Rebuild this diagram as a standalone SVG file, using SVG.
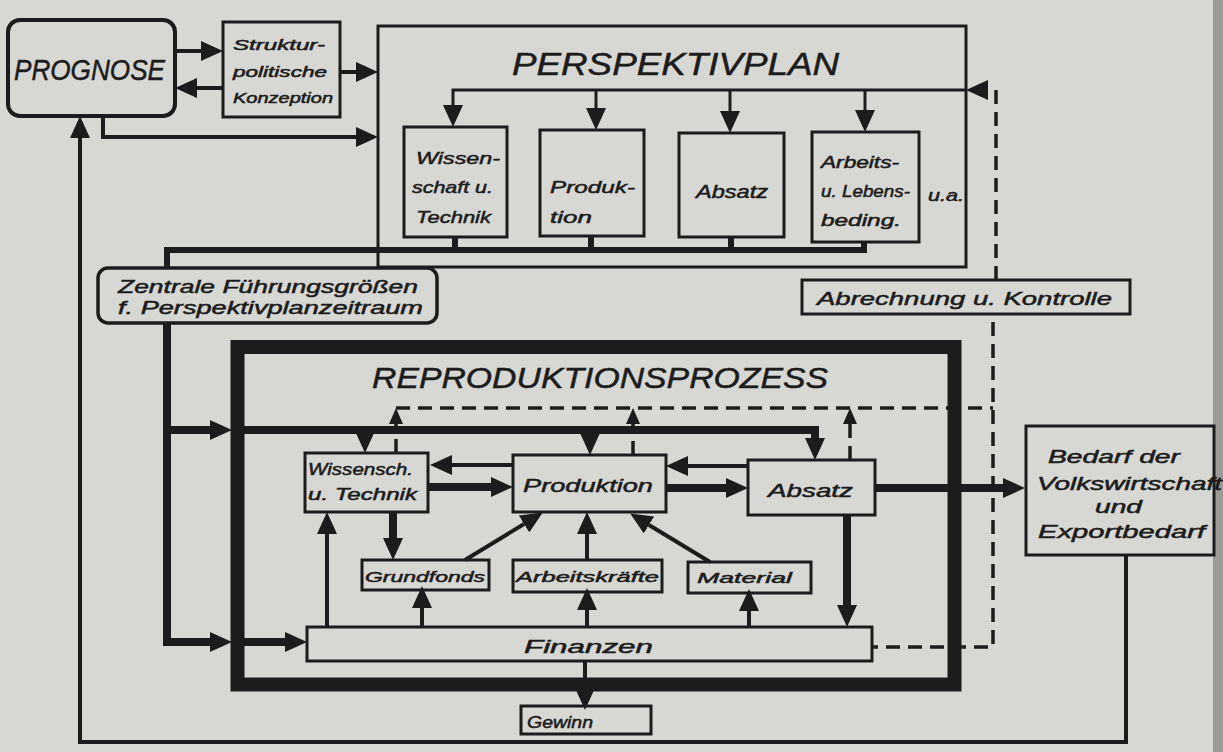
<svg xmlns="http://www.w3.org/2000/svg" width="1223" height="752" viewBox="0 0 1223 752">
<defs>
<style>
.bg{fill:#d7d7d3}
.box{fill:none;stroke:#1c1c1c;stroke-width:3}
.ln{fill:none;stroke:#1c1c1c;stroke-width:4}
.th{fill:none;stroke:#1c1c1c;stroke-width:8}
.md{fill:none;stroke:#1c1c1c;stroke-width:6}
.ds{fill:none;stroke:#1c1c1c;stroke-width:3.5;stroke-dasharray:14 8}
.t{font-family:"Liberation Sans",Arial,sans-serif;font-style:italic;fill:#1c1c1c;stroke:#1c1c1c;stroke-width:0.5}
</style>
<marker id="ah" markerUnits="userSpaceOnUse" markerWidth="22" markerHeight="20" refX="0" refY="10" orient="auto"><path d="M0,0 L22,10 L0,20 z" fill="#1c1c1c"/></marker>
<marker id="as" markerUnits="userSpaceOnUse" markerWidth="16" markerHeight="14" refX="0" refY="7" orient="auto"><path d="M0,0 L16,7 L0,14 z" fill="#1c1c1c"/></marker>
</defs>
<rect class="bg" x="0" y="0" width="1223" height="752"/>
<rect x="1213" y="0" width="10" height="752" fill="#9a9a97"/>

<g id="connectors">
<path class="ln" d="M175,51 H201" marker-end="url(#ah)"/>
<path class="ln" d="M223,88 H197" marker-end="url(#ah)"/>
<path class="ln" d="M340,72 H356" marker-end="url(#ah)"/>
<path class="ln" d="M103,116 V137 H356" marker-end="url(#ah)"/>
<path class="ln" d="M1126,555 V742 H80 V138" marker-end="url(#ah)"/>
<path class="box" d="M966,90 H453 V105" marker-end="url(#ah)"/>
<path class="box" d="M596,90 V108" marker-end="url(#ah)"/>
<path class="box" d="M730,90 V111" marker-end="url(#ah)"/>
<path class="box" d="M865,90 V110" marker-end="url(#ah)"/>
<path class="ds" d="M996,280 V90 H988" marker-end="url(#ah)"/>
<path class="md" d="M455,237 V250 M591,235 V250 M731,237 V250 M864,242 V250 H167 V268"/>
<path class="th" d="M167,323 V642 H210" marker-end="url(#ah)"/>
<path class="th" d="M167,430 H210" marker-end="url(#ah)"/>
<path class="th" d="M244,642 H285" marker-end="url(#ah)"/>
<path class="th" d="M244,430 H815 V438" marker-end="url(#ah)"/>
<path class="th" d="M365,430 V431" marker-end="url(#ah)"/>
<path class="th" d="M590,432 V433" marker-end="url(#ah)"/>
<path class="ds" d="M396,453 V424" marker-end="url(#as)"/>
<path class="ds" d="M633,455 V424" marker-end="url(#as)"/>
<path class="ds" d="M850,460 V424" marker-end="url(#as)"/>
<path class="ds" d="M396,408 H993 M993,322 V647 H872"/>
<path class="th" d="M428,487 H491" marker-end="url(#ah)"/>
<path class="ln" d="M513,465 H452" marker-end="url(#ah)"/>
<path class="th" d="M666,488 H726" marker-end="url(#ah)"/>
<path class="ln" d="M748,466 H688" marker-end="url(#ah)"/>
<path class="th" d="M875,488 H1003" marker-end="url(#ah)"/>
<path class="th" d="M847,515 V605" marker-end="url(#ah)"/>
<path class="th" d="M393,512 V538" marker-end="url(#ah)"/>
<path class="ln" d="M465,560 L524,524" marker-end="url(#ah)"/>
<path class="ln" d="M587,560 V534" marker-end="url(#ah)"/>
<path class="ln" d="M710,562 L649,525" marker-end="url(#ah)"/>
<path class="ln" d="M327,627 V534" marker-end="url(#ah)"/>
<path class="ln" d="M422,627 V608" marker-end="url(#ah)"/>
<path class="ln" d="M587,627 V610" marker-end="url(#ah)"/>
<path class="ln" d="M749,627 V611" marker-end="url(#ah)"/>
<path class="ln" d="M585,661 V688" marker-end="url(#ah)"/>
</g>

<g id="prognose">
<rect x="8" y="20" width="167" height="96" rx="12" fill="none" stroke="#1c1c1c" stroke-width="4"/>
<text class="t" x="14" y="80" font-size="30" textLength="151" lengthAdjust="spacingAndGlyphs">PROGNOSE</text>
</g>
<g id="struktur">
<rect class="box" x="223" y="22" width="117" height="95"/>
<text class="t" x="233" y="50" font-size="14" textLength="92" lengthAdjust="spacingAndGlyphs">Struktur-</text>
<text class="t" x="233" y="77" font-size="14" textLength="94" lengthAdjust="spacingAndGlyphs">politische</text>
<text class="t" x="233" y="103" font-size="14" textLength="100" lengthAdjust="spacingAndGlyphs">Konzeption</text>
</g>
<g id="perspektivplan">
<rect class="box" x="378" y="26" width="588" height="241"/>
<text class="t" x="512" y="75" font-size="31" textLength="327" lengthAdjust="spacingAndGlyphs">PERSPEKTIVPLAN</text>
<text class="t" x="928" y="201" font-size="16" textLength="36" lengthAdjust="spacingAndGlyphs">u.a.</text>
</g>
<g id="pp-wissenschaft">
<rect class="box" x="404" y="127" width="103" height="110"/>
<text class="t" x="416" y="164" font-size="17" textLength="84" lengthAdjust="spacingAndGlyphs">Wissen-</text>
<text class="t" x="412" y="193" font-size="17" textLength="81" lengthAdjust="spacingAndGlyphs">schaft u.</text>
<text class="t" x="416" y="223" font-size="17" textLength="75" lengthAdjust="spacingAndGlyphs">Technik</text>
</g>
<g id="pp-produktion">
<rect class="box" x="540" y="130" width="104" height="106"/>
<text class="t" x="550" y="193" font-size="17" textLength="85" lengthAdjust="spacingAndGlyphs">Produk-</text>
<text class="t" x="550" y="223" font-size="17" textLength="42" lengthAdjust="spacingAndGlyphs">tion</text>
</g>
<g id="pp-absatz">
<rect class="box" x="679" y="133" width="105" height="104"/>
<text class="t" x="696" y="198" font-size="18" textLength="72" lengthAdjust="spacingAndGlyphs">Absatz</text>
</g>
<g id="pp-arbeits">
<rect class="box" x="812" y="132" width="107" height="110"/>
<text class="t" x="821" y="168" font-size="16" textLength="78" lengthAdjust="spacingAndGlyphs">Arbeits-</text>
<text class="t" x="821" y="197" font-size="16" textLength="89" lengthAdjust="spacingAndGlyphs">u. Lebens-</text>
<text class="t" x="821" y="226" font-size="16" textLength="80" lengthAdjust="spacingAndGlyphs">beding.</text>
</g>
<g id="zentrale">
<rect x="98" y="268" width="339" height="55" rx="10" fill="none" stroke="#1c1c1c" stroke-width="3.5"/>
<text class="t" x="118" y="293" font-size="18" textLength="300" lengthAdjust="spacingAndGlyphs">Zentrale Führungsgrößen</text>
<text class="t" x="118" y="314" font-size="18" textLength="305" lengthAdjust="spacingAndGlyphs">f. Perspektivplanzeitraum</text>
</g>
<g id="abrechnung">
<rect class="box" x="802" y="280" width="328" height="34"/>
<text class="t" x="817" y="305" font-size="19" textLength="295" lengthAdjust="spacingAndGlyphs">Abrechnung u. Kontrolle</text>
</g>
<g id="reproduktion">
<rect x="237.5" y="347" width="717" height="337.5" fill="none" stroke="#1c1c1c" stroke-width="14"/>
<text class="t" x="372" y="388" font-size="30" textLength="456" lengthAdjust="spacingAndGlyphs">REPRODUKTIONSPROZESS</text>
</g>
<g id="rp-wissensch">
<rect class="box" x="305" y="453" width="123" height="59"/>
<text class="t" x="308" y="475" font-size="16" textLength="105" lengthAdjust="spacingAndGlyphs">Wissensch.</text>
<text class="t" x="308" y="500" font-size="16" textLength="109" lengthAdjust="spacingAndGlyphs">u. Technik</text>
</g>
<g id="rp-produktion">
<rect class="box" x="513" y="455" width="153" height="57"/>
<text class="t" x="523" y="492" font-size="19" textLength="130" lengthAdjust="spacingAndGlyphs">Produktion</text>
</g>
<g id="rp-absatz">
<rect class="box" x="748" y="460" width="127" height="55"/>
<text class="t" x="768" y="497" font-size="19" textLength="85" lengthAdjust="spacingAndGlyphs">Absatz</text>
</g>
<g id="rp-grundfonds">
<rect class="box" x="362" y="560" width="127" height="30"/>
<text class="t" x="365" y="582" font-size="15" textLength="120" lengthAdjust="spacingAndGlyphs">Grundfonds</text>
</g>
<g id="rp-arbeitskraefte">
<rect class="box" x="513" y="560" width="149" height="32"/>
<text class="t" x="516" y="582" font-size="15" textLength="143" lengthAdjust="spacingAndGlyphs">Arbeitskräfte</text>
</g>
<g id="rp-material">
<rect class="box" x="688" y="562" width="123" height="31"/>
<text class="t" x="697" y="583" font-size="15" textLength="95" lengthAdjust="spacingAndGlyphs">Material</text>
</g>
<g id="rp-finanzen">
<rect class="box" x="307" y="627" width="565" height="34"/>
<text class="t" x="524" y="653" font-size="18" textLength="129" lengthAdjust="spacingAndGlyphs">Finanzen</text>
</g>
<g id="gewinn">
<rect class="box" x="521" y="706" width="130" height="28"/>
<text class="t" x="527" y="728" font-size="16" textLength="66" lengthAdjust="spacingAndGlyphs">Gewinn</text>
</g>
<g id="bedarf">
<rect class="box" x="1026" y="426" width="188" height="129"/>
<text class="t" x="1048" y="463" font-size="18" textLength="132" lengthAdjust="spacingAndGlyphs">Bedarf der</text>
<text class="t" x="1037" y="490" font-size="18" textLength="185" lengthAdjust="spacingAndGlyphs">Volkswirtschaft</text>
<text class="t" x="1095" y="513" font-size="18" textLength="47" lengthAdjust="spacingAndGlyphs">und</text>
<text class="t" x="1038" y="538" font-size="18" textLength="167" lengthAdjust="spacingAndGlyphs">Exportbedarf</text>
</g>
</svg>
